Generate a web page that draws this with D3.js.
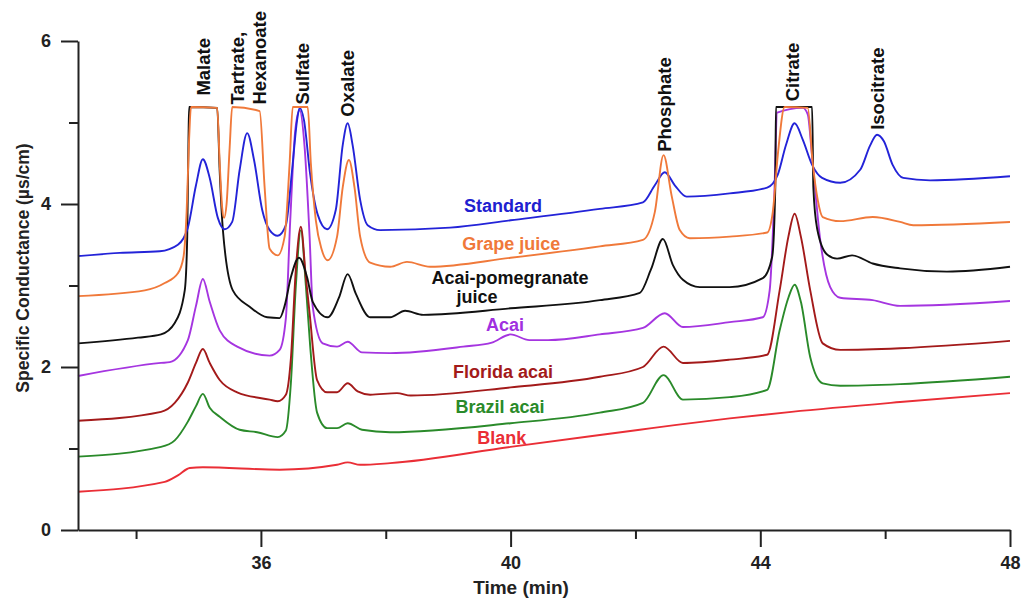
<!DOCTYPE html>
<html>
<head>
<meta charset="utf-8">
<script src="https://cdn.jsdelivr.net/npm/d3@7"></script>
<style>
  html, body { margin: 0; padding: 0; background: #fff; }
  svg { display: block; font-family: "Liberation Sans", Arial, sans-serif; }
</style>
</head>
<body>
<svg id="chart" width="1021" height="599"></svg>
<script>
// ---------------- DATA ----------------
const seriesNames = ["Standard", "Grape juice", "Acai-pomegranate juice", "Acai", "Florida acai", "Brazil acai", "Blank"];

// [time (min), specific conductance (µS/cm)]
const standard = [
  [33.07,3.36],[33.74,3.40],[34.38,3.42],[34.67,3.50],[34.83,3.71],[34.96,4.23],[35.07,4.55],[35.18,4.32],
  [35.31,3.83],[35.42,3.69],[35.54,3.78],[35.66,4.42],[35.78,4.87],[35.89,4.54],[36.02,3.93],[36.14,3.68],
  [36.27,3.61],[36.40,3.74],[36.50,4.42],[36.58,5.03],[36.62,5.18],[36.69,5.03],[36.79,4.36],[36.91,3.87],
  [37.06,3.69],[37.20,3.93],[37.31,4.72],[37.39,4.99],[37.47,4.72],[37.59,4.05],[37.71,3.74],[37.91,3.68],
  [39.03,3.71],[40.00,3.80],[41.43,3.94],[42.12,4.02],[42.31,4.23],[42.47,4.39],[42.63,4.23],[42.82,4.09],
  [43.51,4.13],[44.11,4.20],[44.28,4.36],[44.41,4.72],[44.55,4.99],[44.68,4.79],[44.83,4.48],[44.99,4.32],
  [45.28,4.26],[45.60,4.42],[45.76,4.72],[45.87,4.85],[45.98,4.77],[46.12,4.48],[46.29,4.32],[46.72,4.29],
  [48.00,4.34]
];
const grapeJuice = [
  [33.07,2.87],[34.14,2.94],[34.46,3.03],[34.67,3.15],[34.76,3.35],[34.81,3.90],[34.85,4.80],[34.88,5.19],
  [35.30,5.18],[35.34,4.50],[35.38,3.95],[35.41,3.83],[35.45,4.00],[35.50,4.70],[35.54,5.19],[35.98,5.14],
  [36.06,4.20],[36.14,3.45],[36.27,3.37],[36.38,3.60],[36.46,4.50],[36.51,5.19],[36.75,5.19],[36.80,4.50],
  [36.88,3.80],[36.97,3.45],[37.07,3.31],[37.22,3.60],[37.31,4.20],[37.41,4.54],[37.50,4.20],[37.59,3.60],
  [37.75,3.28],[38.07,3.23],[38.34,3.29],[38.71,3.23],[40.00,3.34],[41.43,3.48],[42.12,3.56],[42.31,3.90],
  [42.45,4.60],[42.58,4.10],[42.71,3.68],[42.87,3.58],[43.51,3.60],[44.11,3.65],[44.20,3.90],[44.28,4.60],
  [44.39,5.19],[44.76,5.18],[44.84,4.50],[44.92,4.05],[45.00,3.84],[45.28,3.79],[45.80,3.84],[46.24,3.78],
  [46.45,3.74],[48.00,3.78]
];
const acaiPomegranate = [
  [33.07,2.29],[34.03,2.36],[34.40,2.40],[34.62,2.54],[34.78,2.94],[34.82,3.60],[34.84,4.80],[34.85,5.19],
  [35.30,5.18],[35.34,4.40],[35.39,3.69],[35.55,2.94],[35.82,2.74],[36.10,2.61],[36.30,2.60],[36.38,2.75],
  [36.48,3.10],[36.61,3.34],[36.74,3.10],[36.83,2.80],[37.07,2.61],[37.25,2.85],[37.39,3.14],[37.52,2.90],
  [37.75,2.61],[38.07,2.61],[38.31,2.69],[38.60,2.64],[40.00,2.72],[41.43,2.82],[42.07,2.91],[42.25,3.20],
  [42.44,3.57],[42.60,3.25],[42.76,3.07],[43.03,2.98],[43.51,2.98],[44.04,3.09],[44.19,3.35],[44.24,4.20],
  [44.25,5.19],[44.83,5.19],[44.85,4.20],[44.91,3.70],[45.07,3.38],[45.23,3.33],[45.47,3.37],[45.80,3.27],
  [46.24,3.21],[46.99,3.17],[48.00,3.23]
];
const acai = [
  [33.07,1.89],[34.40,2.05],[34.54,2.06],[34.83,2.33],[34.96,2.75],[35.07,3.08],[35.18,2.80],[35.34,2.45],
  [35.62,2.25],[36.14,2.14],[36.30,2.21],[36.40,2.60],[36.47,3.80],[36.55,4.90],[36.62,5.15],[36.70,4.70],
  [36.78,3.60],[36.83,2.74],[36.99,2.29],[37.22,2.25],[37.39,2.31],[37.62,2.18],[38.07,2.17],[39.24,2.25],
  [39.70,2.30],[40.00,2.40],[40.30,2.33],[40.60,2.33],[41.43,2.40],[42.12,2.48],[42.47,2.66],[42.76,2.49],
  [43.51,2.55],[44.04,2.61],[44.15,2.94],[44.22,4.00],[44.27,5.12],[44.68,5.18],[44.76,5.10],[44.83,4.58],
  [44.96,3.56],[45.12,2.98],[45.28,2.85],[45.80,2.82],[46.24,2.75],[48.00,2.81]
];
const floridaAcai = [
  [33.07,1.34],[34.40,1.45],[34.62,1.56],[34.83,1.81],[34.96,2.05],[35.07,2.22],[35.18,2.05],[35.34,1.84],
  [35.62,1.69],[36.14,1.60],[36.27,1.58],[36.40,1.66],[36.48,2.10],[36.56,3.20],[36.64,3.72],[36.72,3.10],
  [36.78,2.66],[36.90,1.84],[37.06,1.69],[37.22,1.69],[37.39,1.80],[37.55,1.70],[37.75,1.66],[38.18,1.68],
  [38.40,1.65],[40.00,1.75],[41.43,1.88],[42.12,2.00],[42.45,2.25],[42.76,2.05],[43.51,2.09],[44.11,2.15],
  [44.31,2.94],[44.45,3.60],[44.55,3.88],[44.65,3.60],[44.80,2.94],[45.00,2.29],[45.28,2.21],[46.24,2.23],
  [48.00,2.32]
];
const brazilAcai = [
  [33.07,0.90],[34.40,1.02],[34.62,1.10],[34.83,1.33],[34.96,1.52],[35.07,1.67],[35.18,1.50],[35.34,1.39],
  [35.66,1.23],[35.94,1.20],[36.27,1.14],[36.40,1.22],[36.48,1.80],[36.56,3.00],[36.64,3.68],[36.72,3.00],
  [36.79,2.25],[36.90,1.44],[37.06,1.25],[37.22,1.25],[37.39,1.31],[37.62,1.23],[38.07,1.20],[40.00,1.31],
  [41.43,1.44],[42.12,1.56],[42.45,1.90],[42.76,1.60],[43.51,1.63],[44.11,1.72],[44.31,2.45],[44.45,2.85],
  [44.55,3.01],[44.65,2.80],[44.80,2.12],[45.00,1.80],[45.28,1.77],[46.24,1.79],[48.00,1.88]
];
const blank = [
  [33.07,0.47],[34.46,0.59],[34.67,0.67],[34.86,0.76],[35.07,0.77],[36.30,0.74],[37.22,0.80],[37.39,0.83],
  [37.59,0.80],[38.07,0.82],[40.00,1.02],[42.07,1.23],[42.66,1.29],[43.51,1.37],[44.50,1.45],[46.24,1.57],
  [48.00,1.68]
];
const seriesData = [standard, grapeJuice, acaiPomegranate, acai, floridaAcai, brazilAcai, blank];

// Peak (analyte) labels and the retention time each label sits on
const peakNames = ["Malate", "Tartrate,", "Hexanoate", "Sulfate", "Oxalate", "Phosphate", "Citrate", "Isocitrate"];
const peakTimes = [35.07, 35.63, 35.98, 36.67, 37.38, 42.47, 44.52, 45.88];

// Axis ticks
const xTicks = [36, 40, 44, 48];
const xMinorTicks = [34, 38, 42, 46];
const yTicks = [0, 2, 4, 6];
const yMinorTicks = [1, 3, 5];

// ---------------- LAYOUT / STYLE ----------------
const colors = ["#2323d8", "#f0793a", "#111111", "#a535e0", "#a31a1a", "#2a8a2a", "#ea2e36"];
const labelColors = ["#2020d0", "#f0793a", "#111111", "#a030e0", "#a31a1a", "#2a8a2a", "#ea2e36"];
const seriesLabelLines = [["Standard"], ["Grape juice"], ["Acai-pomegranate", "juice"], ["Acai"], ["Florida acai"], ["Brazil acai"], ["Blank"]];
const seriesLabelPos = [[39.88,3.90],[40.01,3.44],[39.99,3.02],[39.91,2.44],[39.88,1.87],[39.83,1.44],[39.86,1.06]];
const peakLabelBottom = [5.33, 5.22, 5.22, 5.22, 5.07, 4.64, 5.26, 4.91];

const W = 1021, H = 599;
const margin = {left: 78, right: 11, top: 41, bottom: 69};

const svg = d3.select("#chart");
const x = d3.scaleLinear().domain([33.07, 48]).range([margin.left, W - margin.right]);
const y = d3.scaleLinear().domain([0, 6]).range([H - margin.bottom, margin.top]);

// Lines
const line = d3.line().x(d => x(d[0])).y(d => y(d[1])).curve(d3.curveMonotoneX);
const order = [6, 5, 4, 3, 2, 0, 1];
svg.append("g").selectAll("path")
  .data(order)
  .join("path")
  .attr("d", i => line(seriesData[i]))
  .attr("fill", "none")
  .attr("stroke", i => colors[i])
  .attr("stroke-width", 1.9)
  .attr("stroke-linejoin", "round");

// Axes
const gx = svg.append("g").attr("transform", `translate(0,${H - margin.bottom})`)
  .call(d3.axisBottom(x).tickValues(xTicks).tickSize(17).tickSizeOuter(0).tickPadding(9).tickFormat(d3.format("d")));
const gxm = svg.append("g").attr("transform", `translate(0,${H - margin.bottom})`)
  .call(d3.axisBottom(x).tickValues(xMinorTicks).tickSize(9).tickSizeOuter(0).tickFormat(""));
gxm.select(".domain").remove();
const gy = svg.append("g").attr("transform", `translate(${margin.left},0)`)
  .call(d3.axisLeft(y).tickValues(yTicks).tickSize(17).tickSizeOuter(0).tickPadding(10).tickFormat(d3.format("d")));
const gym = svg.append("g").attr("transform", `translate(${margin.left},0)`)
  .call(d3.axisLeft(y).tickValues(yMinorTicks).tickSize(9).tickSizeOuter(0).tickFormat(""));
gym.select(".domain").remove();
svg.selectAll(".domain, .tick line").attr("stroke", "#222").attr("stroke-width", 2);
svg.selectAll(".tick text").attr("font-size", 18).attr("font-weight", "bold").attr("fill", "#222")
  .style("font-family", "'Liberation Sans', Arial, sans-serif");

// Axis titles
svg.append("text").attr("x", 521).attr("y", 594).attr("text-anchor", "middle")
  .attr("font-size", 19).attr("font-weight", "bold").attr("fill", "#222").text("Time (min)");
svg.append("text").attr("transform", `translate(29,268) rotate(-90)`)
  .attr("text-anchor", "middle").attr("font-size", 17.5).attr("font-weight", "bold").attr("fill", "#222")
  .text("Specific Conductance (\u00b5s/cm)");

// Peak labels
svg.append("g").selectAll("text")
  .data(peakNames)
  .join("text")
  .attr("transform", (d, i) => `translate(${x(peakTimes[i])},${y(peakLabelBottom[i])}) rotate(-90)`)
  .attr("dy", "0.36em")
  .attr("text-anchor", "start")
  .attr("font-size", 18.5).attr("font-weight", "bold").attr("fill", "#111")
  .text(d => d);

// Series labels
const sl = svg.append("g").selectAll("text")
  .data(seriesNames)
  .join("text")
  .attr("x", (d, i) => x(seriesLabelPos[i][0]))
  .attr("y", (d, i) => y(seriesLabelPos[i][1]))
  .attr("text-anchor", "middle")
  .attr("font-size", 18).attr("font-weight", "bold")
  .attr("fill", (d, i) => labelColors[i]);
sl.each(function(d, i) {
  const t = d3.select(this);
  seriesLabelLines[i].forEach((ln, k) => {
    t.append("tspan").attr("x", k === 0 ? x(seriesLabelPos[i][0]) : x(seriesLabelPos[i][0]) - 33)
      .attr("dy", k === 0 ? 0 : "1.05em").text(ln);
  });
});
</script>
</body>
</html>
